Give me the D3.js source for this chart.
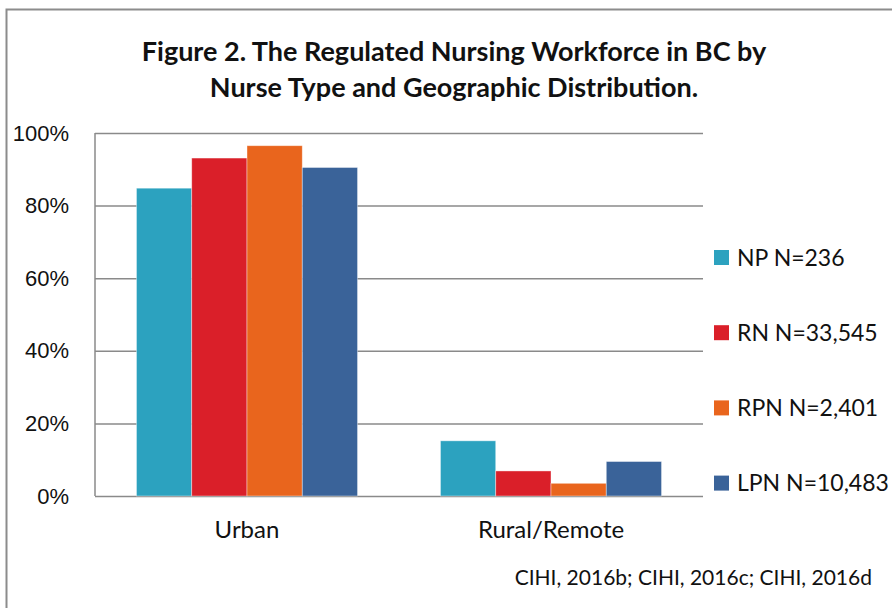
<!DOCTYPE html>
<html>
<head>
<meta charset="utf-8">
<script src="https://cdn.jsdelivr.net/npm/d3@7"></script>
<style>
  body { margin: 0; background: #fff; }
  svg { display: block; font-family: Lato, "Open Sans", sans-serif; }
</style>
</head>
<body>
<svg id="chart" width="892" height="608"></svg>
<script>
const categories = ["Urban", "Rural/Remote"];
const seriesNames = ["NP", "RN", "RPN", "LPN"];
const legendLabels = ["NP N=236", "RN N=33,545", "RPN N=2,401", "LPN N=10,483"];
// share of each nurse type, in order of categories
const npValues = [0.848, 0.152];
const rnValues = [0.931, 0.069];
const rpnValues = [0.965, 0.035];
const lpnValues = [0.905, 0.095];
const yTicks = [0, 0.2, 0.4, 0.6, 0.8, 1.0];
const titleLines = ["Figure 2. The Regulated Nursing Workforce in BC by", "Nurse Type and Geographic Distribution."];
const sourceText = "CIHI, 2016b; CIHI, 2016c; CIHI, 2016d";

const colors = ["#2ca2bf", "#da1f29", "#e9651d", "#3a6399"];
const gridColor = "#8a8a8a";
const textColor = "#111";

const seriesValues = [npValues, rnValues, rpnValues, lpnValues];
const rows = categories.map((c, i) => ({
  category: c,
  values: seriesNames.map((s, j) => ({ series: s, value: seriesValues[j][i] }))
}));

const svg = d3.select("#chart");

// outer frame
svg.append("rect")
  .attr("x", 6.5).attr("y", 9.5)
  .attr("width", 900).attr("height", 620)
  .attr("fill", "none")
  .attr("stroke", "#8c8c8c")
  .attr("stroke-width", 2);

const plot = { left: 95, right: 703, top: 133, bottom: 496 };

const x0 = d3.scaleBand()
  .domain(categories)
  .range([plot.left, plot.right])
  .padding(0);

const x1 = d3.scaleBand()
  .domain(seriesNames)
  .range([0, x0.bandwidth()])
  .paddingInner(0)
  .paddingOuter(0.75);

const y = d3.scaleLinear()
  .domain([0, 1])
  .range([plot.bottom, plot.top]);

// gridlines + tick labels
const yAxis = svg.append("g")
  .attr("transform", `translate(${plot.left},0)`)
  .call(d3.axisLeft(y)
    .tickValues(yTicks)
    .tickSize(-(plot.right - plot.left))
    .tickPadding(26)
    .tickFormat(d3.format(".0%")));
yAxis.select(".domain").remove();
yAxis.selectAll("line")
  .attr("stroke", gridColor)
  .attr("stroke-width", 1.5);
yAxis.selectAll("text")
  .attr("fill", textColor)
  .style("font-size", "22px");

// vertical axis line
svg.append("line")
  .attr("x1", plot.left).attr("x2", plot.left)
  .attr("y1", y(1)).attr("y2", y(0))
  .attr("stroke", gridColor)
  .attr("stroke-width", 1.5);

// bars
const groups = svg.selectAll(".group")
  .data(rows)
  .enter()
  .append("g")
  .attr("class", "group")
  .attr("transform", d => `translate(${x0(d.category)},0)`);

groups.selectAll("rect")
  .data(d => d.values)
  .enter()
  .append("rect")
  .attr("x", d => x1(d.series))
  .attr("y", d => y(d.value))
  .attr("width", x1.bandwidth())
  .attr("height", d => y(0) - y(d.value))
  .attr("fill", (d, i) => colors[i])
  .attr("stroke", "#fff")
  .attr("stroke-opacity", 0.5)
  .attr("stroke-width", 0.8);

// category labels
svg.append("g")
  .selectAll("text")
  .data(categories)
  .enter()
  .append("text")
  .attr("x", d => x0(d) + x0.bandwidth() / 2)
  .attr("y", 538)
  .attr("text-anchor", "middle")
  .attr("fill", textColor)
  .style("font-size", "24px")
  .text(d => d);

// legend
const legend = svg.append("g")
  .selectAll("g")
  .data(legendLabels)
  .enter()
  .append("g")
  .attr("transform", (d, i) => `translate(714,${257.5 + i * 75.2})`);

legend.append("rect")
  .attr("x", 0).attr("y", -7.5)
  .attr("width", 15).attr("height", 15)
  .attr("fill", (d, i) => colors[i]);

legend.append("text")
  .attr("x", 23)
  .attr("y", 0)
  .attr("dy", "0.36em")
  .attr("fill", textColor)
  .style("font-size", "23px")
  .text(d => d);

// title
svg.append("g")
  .selectAll("text")
  .data(titleLines)
  .enter()
  .append("text")
  .attr("x", 454)
  .attr("y", (d, i) => 61 + i * 36)
  .attr("text-anchor", "middle")
  .attr("fill", textColor)
  .style("font-size", "27px")
  .style("font-weight", "bold")
  .text(d => d);

// source note
svg.append("text")
  .attr("x", 872)
  .attr("y", 585)
  .attr("text-anchor", "end")
  .attr("fill", textColor)
  .style("font-size", "21px")
  .text(sourceText);
</script>
</body>
</html>
